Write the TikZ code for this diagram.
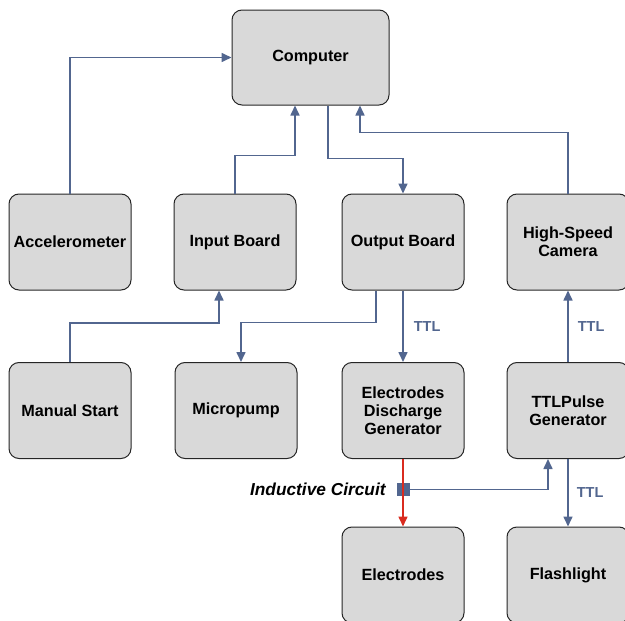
\documentclass[tikz,border=0pt]{standalone}
\usepackage{fontspec}
\setmainfont{Liberation Sans}
\usetikzlibrary{arrows.meta}
\definecolor{linkblue}{HTML}{52668F}
\definecolor{boxgray}{HTML}{D9D9D9}
\definecolor{pulsered}{HTML}{D92B1F}

\begin{document}
\begin{tikzpicture}[x=1pt,y=-1pt,
	unit/.style={draw=black!85,fill=boxgray,line width=1pt,rounded corners=10pt,minimum width=122pt,minimum height=96pt,align=center,font=\fontsize{16.2}{18}\selectfont\bfseries},
	link/.style={draw=linkblue,line width=1.6pt,-{Triangle[length=10pt,width=9pt]}},
	ttl/.style={text=linkblue,font=\fontsize{14.5}{16}\selectfont\bfseries,inner sep=0pt}]
	
	\useasboundingbox (0,0) rectangle (625,621);
	
	\node[unit,minimum width=157pt,minimum height=95pt] (comp) at (310.5,57.5) {Computer};
	
	\node[unit] (accel) at (70,242) {Accelerometer};
	\node[unit] (inb) at (235,242) {Input Board};
	\node[unit] (outb) at (403,242) {Output Board};
	\node[unit] (cam) at (568,242) {High-Speed\\Camera};
	
	\node[unit] (manual) at (70,410.5) {Manual Start};
	\node[unit] (pump) at (236,410.5) {Micropump};
	\node[unit] (edg) at (403,410.5) {Electrodes\\Discharge\\Generator};
	\node[unit] (ttlgen) at (568,410.5) {TTLPulse\\Generator};
	
	\node[unit] (elec) at (403,575) {Electrodes};
	\node[unit] (flash) at (568,575) {Flashlight};
	
	\node[fill=linkblue,minimum size=13pt,inner sep=0pt] (ind) at (403.5,489.5) {};
	\node[left=11pt,inner sep=0pt,font=\fontsize{17.3}{19}\selectfont\bfseries\itshape] (indlabel) at (ind.west) {Inductive Circuit};
	
	\draw[link] (accel.north) |- (comp.west);
	
	\draw[link] (inb.north) -- ++(0,-38) -| ([xshift=-15.5pt]comp.south);
	
	\draw[link] ([xshift=17.5pt]comp.south) -- ++(0,53) -| (outb.north);
	
	\draw[link] (cam.north) -- ++(0,-61) -| ([xshift=49.5pt]comp.south);
	
	\draw[link] ([xshift=-27pt]outb.south) -- ++(0,32) -| ([xshift=5pt]pump.north);
	
	\draw[link] (outb.south) -- node[ttl,right=10pt] (ttla) {TTL} (edg.north);
	
	\draw[link] (manual.north) -- ++(0,-39) -| ([xshift=-16pt]inb.south);
	
	\draw[link] (ttlgen.north) -- node[ttl,right=9pt] (ttlb) {TTL} (cam.south);
	
	\draw[link] (ind.east) -| ([xshift=-20pt]ttlgen.south);
	
	\draw[link] (ttlgen.south) -- node[ttl,right=8pt] (ttlc) {TTL} (flash.north);
	
	\draw[link,draw=pulsered,-{Triangle[length=10pt,width=9pt,fill=pulsered]}] (edg.south) -- (elec.north);
	
\end{tikzpicture}
\end{document}
